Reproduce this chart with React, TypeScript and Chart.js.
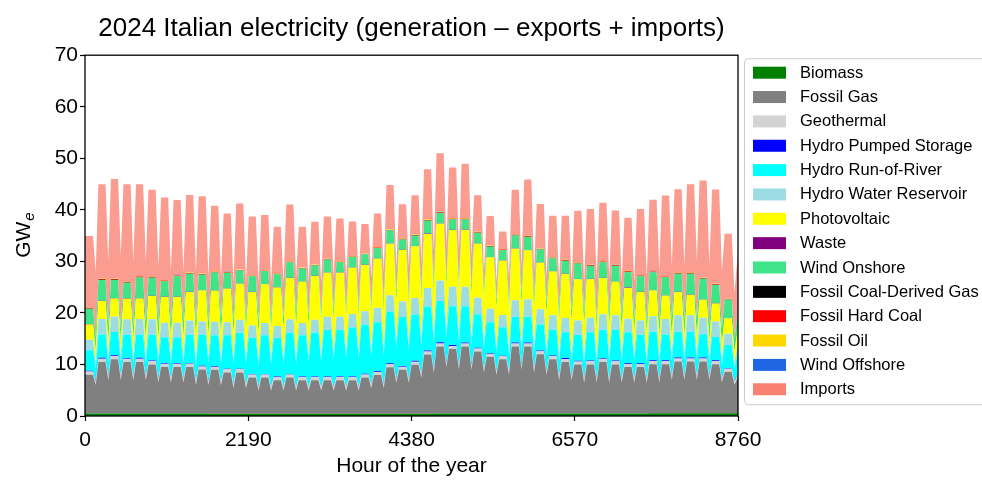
import React, { useEffect, useRef } from "react";
import { Chart, registerables } from "chart.js";

Chart.register(...registerables);

// ---- Weekly readings (GW). Weeks start on Monday 1 Jan 2024. ----
// *_WD: weekday level (53 weeks, last one is the 30-31 Dec stub)
// *_WE: weekend low (52 weeks)

const GAS_WD = [7.5, 10, 10.5, 10, 10, 9.5, 9, 9, 9, 8.5, 8.5, 8, 8, 7, 7, 6.5, 7, 6.5, 6.5, 6.5, 6.5, 6.5, 7, 7.5, 9, 8.5, 9.5, 11.5, 13, 12.5, 13, 12, 11, 10.5, 13, 13, 11.5, 10.5, 10, 9.5, 9.5, 10, 9.5, 9, 9, 9.5, 9.5, 10, 10, 10, 9.5, 8, 7];
const GAS_WE = [5.5, 6.5, 6.5, 6.5, 6.5, 6, 6, 6, 5.5, 5.5, 5.5, 5, 5, 4.5, 4.5, 4.5, 4.5, 4.5, 4.5, 4.5, 4.5, 4.5, 5, 5, 6, 6, 7, 8, 9, 8.5, 8.5, 8, 7.5, 7.5, 8.5, 8, 7.5, 6.5, 6.5, 6, 6, 6, 6, 6, 6, 6, 6.5, 6.5, 6.5, 6.5, 6, 5.5];

const ROR_WD = [4, 4.5, 4.5, 4.5, 4.5, 5, 5, 5, 5.5, 6, 6, 6.5, 7, 7, 7.5, 7.5, 8, 8, 8.5, 9, 9, 9.5, 9.5, 9.5, 10, 9.5, 9, 8.5, 8, 7.5, 7, 6.5, 6, 5.5, 5, 5, 5, 5, 5, 5, 5.5, 5.5, 6, 6, 5.5, 5.5, 5, 5, 5, 4.5, 4.5, 4.5, 4];
const ROR_WE = [2.5, 2.5, 2.5, 2.5, 2.5, 3, 3, 3, 3, 3.5, 3.5, 4, 4, 4, 4.5, 4.5, 4.5, 5, 5, 5.5, 5.5, 5.5, 5.5, 5.5, 6, 5.5, 5.5, 5, 5, 4.5, 4, 4, 3.5, 3, 3, 3, 3, 3, 3, 3, 3, 3.5, 3.5, 3.5, 3, 3, 3, 3, 3, 2.5, 2.5, 2.5];

const RES_WD = [2, 3, 3, 3, 3, 3, 2.8, 2.8, 2.8, 2.6, 2.6, 2.5, 2.5, 2.4, 2.4, 2.3, 2.6, 2.4, 2.5, 2.6, 2.6, 2.6, 2.6, 2.8, 3.2, 3, 3.2, 3.6, 4, 3.8, 3.8, 3.2, 2.6, 2.4, 3.2, 3.4, 3, 2.8, 2.8, 2.8, 2.8, 3, 2.8, 2.6, 2.8, 3, 3, 3.2, 3.2, 3.2, 3, 2.2, 1.8];
const RES_WE = [1.4, 1.6, 1.6, 1.6, 1.6, 1.6, 1.5, 1.5, 1.5, 1.4, 1.4, 1.4, 1.3, 1.3, 1.3, 1.3, 1.4, 1.3, 1.4, 1.4, 1.4, 1.4, 1.4, 1.5, 1.7, 1.6, 1.7, 1.9, 2.1, 2, 2, 1.7, 1.4, 1.3, 1.7, 1.8, 1.6, 1.5, 1.5, 1.5, 1.5, 1.6, 1.5, 1.4, 1.5, 1.6, 1.6, 1.7, 1.7, 1.7, 1.6, 1.2];

const PV_WD = [3, 3.5, 3.5, 4, 4, 4.5, 5, 5, 5.5, 6, 6, 6.5, 7, 6.5, 7.5, 7.5, 8, 8, 8.5, 8.5, 8.5, 9, 9, 9.5, 10, 10, 10, 10.5, 11, 11, 11, 10.5, 10, 10.5, 10, 9.5, 9, 8.5, 8.5, 8, 7.5, 7, 6.5, 6, 5.5, 5, 4.5, 4.5, 4, 3.5, 3.5, 3, 3];
const PV_WE = [2, 2.5, 2.5, 3, 3, 3, 3.5, 3.5, 4, 4, 4, 4.5, 5, 5, 5, 5.5, 5.5, 5.5, 6, 6, 6.5, 6.5, 6.5, 7, 7, 7, 7, 7.5, 7.5, 7.5, 7.5, 7.5, 7, 7, 7, 6.5, 6.5, 6, 6, 5.5, 5, 5, 4.5, 4, 4, 3.5, 3, 3, 3, 2.5, 2.5, 2];

const WIND_WD = [3, 4, 3.5, 3, 4, 3.5, 3, 4, 3.5, 3, 3.5, 3, 2.5, 3, 2.5, 2.5, 3, 2.5, 2, 2.5, 2, 2, 2, 2, 2.5, 2, 2, 2.5, 2, 2, 2, 2, 2, 2, 2.5, 2.5, 2.5, 2.5, 2.5, 3, 2.5, 3, 3, 3, 3, 3.5, 3.5, 3.5, 4, 4, 3.5, 3.5, 3];
const WIND_WE = [2.5, 3, 2.5, 2.5, 3, 3, 2.5, 3, 2.5, 2.5, 3, 2.5, 2, 2.5, 2, 2, 2.5, 2, 1.5, 2, 1.5, 1.5, 1.5, 1.5, 2, 1.5, 1.5, 2, 1.5, 1.5, 1.5, 1.5, 1.5, 1.5, 2, 2, 2, 2, 2, 2.5, 2, 2.5, 2.5, 2.5, 2.5, 3, 3, 3, 3, 3, 3, 2.5];

const IMP_WD = [13.8, 18.3, 19.3, 18.8, 17.8, 16.8, 16, 14.5, 15, 15, 12.7, 11.3, 12.8, 11.4, 10.7, 9, 11, 7.9, 8.3, 8.2, 8.3, 6.7, 5.7, 6.5, 8.6, 6.6, 7.6, 9.7, 11.3, 9.8, 10.5, 7.1, 5.7, 3.4, 8.6, 10.9, 8.6, 8, 8.5, 10, 10.8, 11.3, 10.5, 10.3, 12.8, 13.8, 15.6, 16.1, 17.1, 18.8, 18.3, 12.6, 11.5];
const IMP_WE = [12.5, 12.3, 13.8, 12.3, 11.8, 10.8, 9.9, 9.4, 9.9, 8.5, 8, 7, 7.1, 7.1, 7.1, 6.6, 7, 6.1, 6, 6, 6, 6, 5.5, 5.9, 4.7, 5.8, 5.7, 6, 6.3, 6.4, 5.9, 3.7, 3.5, 5.1, 5.2, 5.1, 4.8, 5.4, 5.4, 5.9, 7.9, 6.8, 6.4, 7, 8.4, 9.3, 10.3, 10.2, 11.2, 11.2, 10.8, 8.7];

// Small, nearly flat contributions: one level per week (53 weeks)
const BIOMASS = [0.5, 0.5, 0.5, 0.5, 0.5, 0.5, 0.5, 0.5, 0.5, 0.5, 0.45, 0.45, 0.45, 0.45, 0.45, 0.45, 0.45, 0.45, 0.45, 0.45, 0.45, 0.45, 0.45, 0.45, 0.45, 0.45, 0.45, 0.45, 0.5, 0.5, 0.5, 0.5, 0.5, 0.5, 0.5, 0.5, 0.5, 0.5, 0.5, 0.5, 0.5, 0.5, 0.5, 0.5, 0.5, 0.55, 0.55, 0.55, 0.55, 0.55, 0.55, 0.55, 0.55];
const GEOTHERMAL = [0.62, 0.62, 0.62, 0.62, 0.62, 0.62, 0.62, 0.62, 0.62, 0.62, 0.62, 0.62, 0.62, 0.6, 0.6, 0.6, 0.6, 0.6, 0.6, 0.6, 0.6, 0.6, 0.6, 0.6, 0.6, 0.6, 0.58, 0.58, 0.58, 0.58, 0.58, 0.58, 0.58, 0.58, 0.58, 0.58, 0.58, 0.58, 0.58, 0.58, 0.6, 0.6, 0.6, 0.6, 0.6, 0.6, 0.6, 0.6, 0.6, 0.6, 0.6, 0.6, 0.6];
const PUMPED = [0.15, 0.18, 0.18, 0.15, 0.18, 0.15, 0.15, 0.15, 0.12, 0.12, 0.12, 0.12, 0.1, 0.12, 0.1, 0.1, 0.12, 0.1, 0.1, 0.12, 0.12, 0.12, 0.15, 0.15, 0.18, 0.15, 0.18, 0.2, 0.22, 0.2, 0.2, 0.15, 0.12, 0.12, 0.18, 0.18, 0.15, 0.15, 0.15, 0.15, 0.15, 0.15, 0.15, 0.15, 0.15, 0.18, 0.18, 0.18, 0.18, 0.2, 0.18, 0.12, 0.12];
const WASTE = [0.06, 0.07, 0.07, 0.07, 0.07, 0.06, 0.06, 0.06, 0.06, 0.06, 0.06, 0.06, 0.06, 0.06, 0.06, 0.06, 0.06, 0.06, 0.06, 0.06, 0.06, 0.06, 0.06, 0.06, 0.06, 0.06, 0.06, 0.06, 0.06, 0.06, 0.06, 0.06, 0.06, 0.06, 0.06, 0.06, 0.06, 0.06, 0.06, 0.06, 0.06, 0.06, 0.06, 0.06, 0.06, 0.07, 0.07, 0.07, 0.07, 0.07, 0.07, 0.06, 0.06];
const COAL_GAS = [0.05, 0.05, 0.05, 0.05, 0.05, 0.05, 0.05, 0.05, 0.05, 0.05, 0.04, 0.04, 0.04, 0.04, 0.04, 0.04, 0.04, 0.04, 0.04, 0.04, 0.04, 0.04, 0.04, 0.04, 0.04, 0.04, 0.05, 0.05, 0.05, 0.05, 0.05, 0.05, 0.05, 0.05, 0.05, 0.05, 0.05, 0.05, 0.05, 0.05, 0.05, 0.05, 0.05, 0.05, 0.05, 0.05, 0.05, 0.05, 0.05, 0.05, 0.05, 0.05, 0.05];
const HARD_COAL = [0.12, 0.15, 0.15, 0.14, 0.14, 0.12, 0.12, 0.1, 0.1, 0.08, 0.08, 0.07, 0.07, 0.05, 0.05, 0.05, 0.05, 0.05, 0.05, 0.05, 0.05, 0.05, 0.05, 0.07, 0.08, 0.07, 0.08, 0.1, 0.12, 0.1, 0.1, 0.08, 0.07, 0.07, 0.1, 0.1, 0.08, 0.08, 0.08, 0.08, 0.08, 0.1, 0.1, 0.1, 0.1, 0.1, 0.1, 0.12, 0.12, 0.12, 0.1, 0.08, 0.07];
const OIL = [0.1, 0.1, 0.1, 0.1, 0.1, 0.1, 0.1, 0.1, 0.1, 0.1, 0.1, 0.1, 0.09, 0.09, 0.09, 0.09, 0.09, 0.09, 0.09, 0.09, 0.09, 0.09, 0.1, 0.1, 0.11, 0.11, 0.11, 0.12, 0.12, 0.12, 0.12, 0.11, 0.1, 0.1, 0.11, 0.11, 0.1, 0.1, 0.1, 0.1, 0.1, 0.1, 0.1, 0.1, 0.1, 0.1, 0.1, 0.1, 0.1, 0.1, 0.1, 0.09, 0.09];
const OFFSHORE = [0.01, 0.01, 0.01, 0.01, 0.01, 0.01, 0.01, 0.01, 0.01, 0.01, 0.01, 0.01, 0.01, 0.01, 0.01, 0.01, 0.01, 0.01, 0.01, 0.01, 0.01, 0.01, 0.01, 0.01, 0.01, 0.01, 0.01, 0.01, 0.01, 0.01, 0.01, 0.01, 0.01, 0.01, 0.01, 0.01, 0.01, 0.01, 0.01, 0.01, 0.01, 0.01, 0.01, 0.01, 0.01, 0.01, 0.01, 0.01, 0.01, 0.01, 0.01, 0.01, 0.01];

const X_TICKS = [0, 2190, 4380, 6570, 8760];
const Y_MAX = 70;

const TITLE = "2024 Italian electricity (generation \u2013 exports + imports)";
const X_LABEL = "Hour of the year";

const FONT = "'Liberation Sans', Arial, Helvetica, sans-serif";

// Sample times within each week: Mon 12:00 and Fri 12:00 carry the weekday
// level, Sun 00:00 carries the weekend low. The year closes at hour 8760.
const HOUR_OF_WEEK = [12, 108, 144];
const SAMPLE_HOURS: number[] = [];
for (let w = 0; w < 52; w++) {
  HOUR_OF_WEEK.forEach((h, k) => SAMPLE_HOURS.push(w === 0 && k === 0 ? 0 : w * 168 + h));
}
SAMPLE_HOURS.push(8760);

function toPoints(wd: number[], we?: number[]) {
  const ys: number[] = [];
  for (let w = 0; w < 52; w++) {
    ys.push(wd[w], wd[w], we ? we[w] : wd[w]);
  }
  ys.push(wd[52]);
  return ys.map((y, i) => ({ x: SAMPLE_HOURS[i], y }));
}

// color: legend patch; fillColor (optional): area fill when it differs
const SERIES: { label: string; color: string; fillColor?: string; data: { x: number; y: number }[] }[] = [
  { label: "Biomass", color: "#008000", data: toPoints(BIOMASS) },
  { label: "Fossil Gas", color: "#808080", data: toPoints(GAS_WD, GAS_WE) },
  { label: "Geothermal", color: "#d3d3d3", data: toPoints(GEOTHERMAL) },
  { label: "Hydro Pumped Storage", color: "#0000ff", data: toPoints(PUMPED) },
  { label: "Hydro Run-of-River", color: "#00ffff", data: toPoints(ROR_WD, ROR_WE) },
  { label: "Hydro Water Reservoir", color: "#9edce4", data: toPoints(RES_WD, RES_WE) },
  { label: "Photovoltaic", color: "#ffff00", data: toPoints(PV_WD, PV_WE) },
  { label: "Waste", color: "#800080", data: toPoints(WASTE) },
  { label: "Wind Onshore", color: "#3fe388", data: toPoints(WIND_WD, WIND_WE) },
  { label: "Fossil Coal-Derived Gas", color: "#000000", data: toPoints(COAL_GAS) },
  { label: "Fossil Hard Coal", color: "#ff0000", data: toPoints(HARD_COAL) },
  { label: "Fossil Oil", color: "#ffd700", data: toPoints(OIL) },
  { label: "Wind Offshore", color: "#1f66e5", data: toPoints(OFFSHORE) },
  { label: "Imports", color: "#fa8072", fillColor: "rgba(250,128,114,0.78)", data: toPoints(IMP_WD, IMP_WE) },
];

// Box around the plot, rotated y label with subscript, and the side legend
const decorations = {
  id: "decorations",
  afterDatasetsDraw(chart: any) {
    const { ctx, chartArea } = chart;
    ctx.save();
    ctx.strokeStyle = "#000";
    ctx.lineWidth = 1.3;
    ctx.strokeRect(chartArea.left, chartArea.top, chartArea.right - chartArea.left, chartArea.bottom - chartArea.top);
    ctx.restore();
  },
  afterDraw(chart: any) {
    const { ctx, chartArea } = chart;

    // y-axis label: GW with subscript italic e
    ctx.save();
    ctx.translate(30, (chartArea.top + chartArea.bottom) / 2);
    ctx.rotate(-Math.PI / 2);
    ctx.fillStyle = "#000";
    ctx.textBaseline = "alphabetic";
    ctx.font = `21px ${FONT}`;
    const wMain = ctx.measureText("GW").width;
    ctx.font = `italic 15px ${FONT}`;
    const wSub = ctx.measureText("e").width;
    const start = -(wMain + wSub) / 2;
    ctx.font = `21px ${FONT}`;
    ctx.fillText("GW", start, 0);
    ctx.font = `italic 15px ${FONT}`;
    ctx.fillText("e", start + wMain + 1, 4);
    ctx.restore();

    // legend
    const x0 = chartArea.right + 6;
    const y0 = chartArea.top + 3;
    const rowH = 24.35;
    ctx.save();
    ctx.fillStyle = "rgba(255,255,255,0.9)";
    ctx.strokeStyle = "#cccccc";
    ctx.lineWidth = 1;
    ctx.beginPath();
    ctx.roundRect(x0 + 0.5, y0 + 0.5, 300, 346, 4);
    ctx.fill();
    ctx.stroke();
    ctx.font = `16.5px ${FONT}`;
    ctx.textBaseline = "middle";
    SERIES.forEach((s, i) => {
      const cy = y0 + 14.5 + i * rowH;
      ctx.fillStyle = s.color;
      ctx.fillRect(x0 + 9, cy - 6, 33, 12);
      ctx.fillStyle = "#000";
      ctx.fillText(s.label, x0 + 56, cy + 0.5);
    });
    ctx.restore();
  },
};

export default function App() {
  const canvasRef = useRef<HTMLCanvasElement | null>(null);

  useEffect(() => {
    if (!canvasRef.current) return;
    Chart.defaults.font.family = FONT;
    Chart.defaults.color = "#000";

    const chart = new Chart(canvasRef.current, {
      type: "line",
      data: {
        datasets: SERIES.map((s, i) => ({
          label: s.label,
          data: s.data,
          backgroundColor: s.fillColor ?? s.color,
          borderColor: "rgba(0,0,0,0)",
          borderWidth: 0,
          pointRadius: 0,
          tension: 0,
          fill: i === 0 ? "origin" : "-1",
        })),
      },
      options: {
        responsive: false,
        animation: false,
        events: [],
        layout: { padding: { left: 0, right: 244, top: 0, bottom: 0 } },
        plugins: {
          legend: { display: false },
          tooltip: { enabled: false },
          title: {
            display: true,
            text: TITLE,
            fullSize: false,
            color: "#000",
            font: { size: 26, weight: "normal", family: FONT },
            padding: { top: 13, bottom: 11 },
          },
        },
        scales: {
          x: {
            type: "linear",
            min: 0,
            max: 8760,
            afterBuildTicks: (scale: any) => {
              scale.ticks = X_TICKS.map((v) => ({ value: v }));
            },
            afterFit: (scale: any) => {
              scale.height = 65;
            },
            ticks: {
              autoSkip: false,
              maxRotation: 0,
              color: "#000",
              padding: 7,
              font: { size: 21, family: FONT },
              callback: (v: any) => String(v),
            },
            grid: {
              display: true,
              drawOnChartArea: false,
              drawTicks: true,
              tickLength: 5,
              tickColor: "#000",
              tickWidth: 1.2,
            },
            border: { display: false },
            title: {
              display: true,
              text: X_LABEL,
              color: "#000",
              font: { size: 21, family: FONT },
              padding: { top: 0, bottom: 2 },
            },
          },
          y: {
            stacked: true,
            min: 0,
            max: Y_MAX,
            afterFit: (scale: any) => {
              scale.width = 85;
            },
            ticks: {
              stepSize: 10,
              color: "#000",
              padding: 2,
              font: { size: 21, family: FONT },
            },
            grid: {
              display: true,
              drawOnChartArea: false,
              drawTicks: true,
              tickLength: 5,
              tickColor: "#000",
              tickWidth: 1.2,
            },
            border: { display: false },
          },
        },
      },
      plugins: [decorations],
    } as any);

    return () => chart.destroy();
  }, []);

  return (
    <div style={{ position: "absolute", left: 0, top: 0, width: 982, height: 481, background: "#fff", overflow: "hidden" }}>
      <canvas ref={canvasRef} width={982} height={481} style={{ display: "block", width: 982, height: 481 }} />
    </div>
  );
}
